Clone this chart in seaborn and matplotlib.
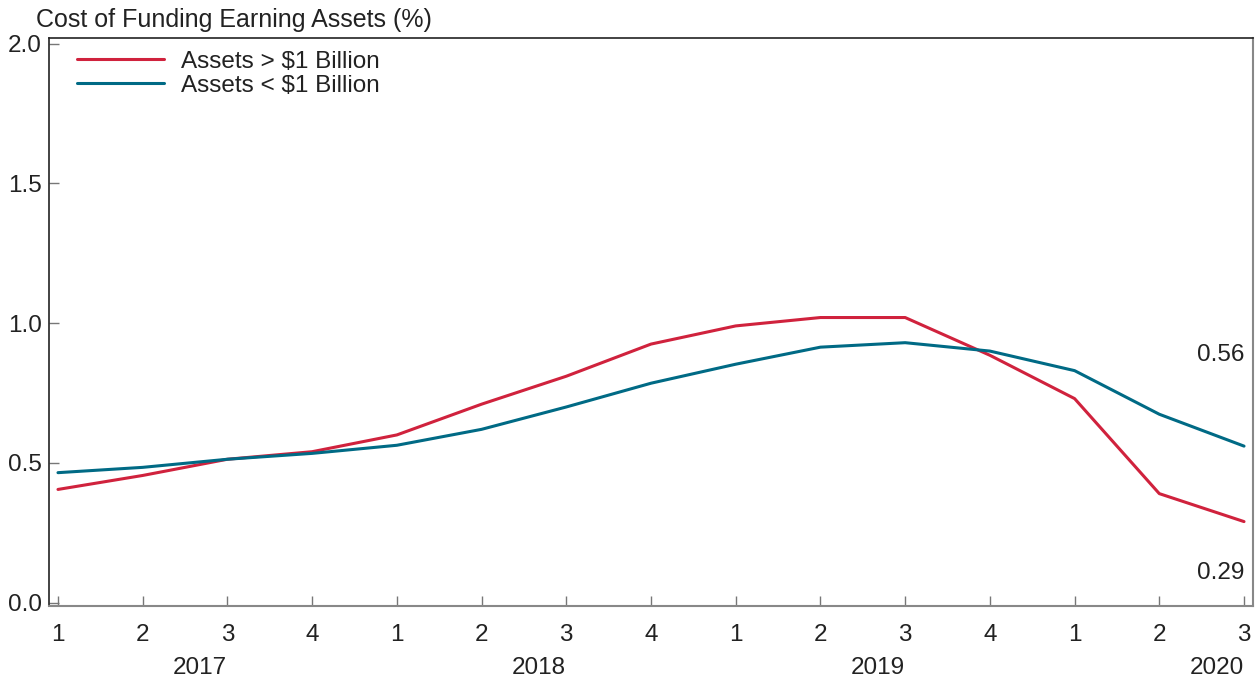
import numpy as np
import pandas as pd
import matplotlib
matplotlib.use("Agg")
import matplotlib.pyplot as plt
import seaborn as sns

quarters = ["1", "2", "3", "4", "1", "2", "3", "4", "1", "2", "3", "4", "1", "2", "3"]
years = ["2017", "2018", "2019", "2020"]
large = [0.405, 0.455, 0.513, 0.54, 0.60, 0.71, 0.81, 0.925, 0.99, 1.02, 1.02, 0.885, 0.73, 0.39, 0.29]
small = [0.465, 0.484, 0.513, 0.534, 0.563, 0.62, 0.70, 0.785, 0.853, 0.914, 0.93, 0.90, 0.83, 0.674, 0.56]
series_names = ["Assets > $1 Billion", "Assets < $1 Billion"]
colors = ["#D0223D", "#006A85"]

sns.set_theme(style="white")
plt.rcParams["font.family"] = ["Liberation Sans", "DejaVu Sans"]
text_color = "#222222"
fs = 17.5

idx = np.arange(len(quarters))
df = pd.DataFrame({
    "x": np.concatenate([idx, idx]),
    "value": large + small,
    "series": [series_names[0]] * len(large) + [series_names[1]] * len(small),
})

fig = plt.figure(figsize=(12.6, 6.79), dpi=100)
ax = fig.add_axes([49 / 1260, 1 - 606 / 679, (1253 - 49) / 1260, (606 - 38) / 679])
sns.lineplot(data=df, x="x", y="value", hue="series", palette=colors,
             hue_order=series_names, linewidth=2.2, ax=ax)

ax.set_xlim(-0.106, 14.106)
ax.set_ylim(-0.012, 2.02)
ax.set_xticks(idx)
ax.set_xticklabels(quarters)
ax.set_yticks([0, 0.5, 1.0, 1.5, 2.0])
ax.set_yticklabels(["0.0", "0.5", "1.0", "1.5", "2.0"])
ax.tick_params(axis="both", direction="in", length=7, width=1, color="#777777",
               labelsize=fs, labelcolor=text_color, left=True, bottom=True)
ax.tick_params(axis="x", pad=13)
ax.tick_params(axis="y", pad=5)
ax.set_xlabel("")
ax.set_ylabel("")

for side in ["left", "top"]:
    ax.spines[side].set_color("#222222")
    ax.spines[side].set_linewidth(1.2)
for side in ["right", "bottom"]:
    ax.spines[side].set_color("#888888")
    ax.spines[side].set_linewidth(1.5)

for k, yr in enumerate(years):
    ax.text(1.68 + 4 * k, -0.233, yr, transform=ax.transData, ha="center", va="center",
            fontsize=fs, color=text_color, clip_on=False)

ax.text(14.0, 0.885, f"{small[-1]:.2f}", ha="right", va="center", fontsize=fs, color=text_color)
ax.text(14.0, 0.107, f"{large[-1]:.2f}", ha="right", va="center", fontsize=fs, color=text_color)

fig.text(36 / 1260, 1 - 20 / 679, "Cost of Funding Earning Assets (%)", ha="left", va="center",
         fontsize=18, color=text_color)

leg = ax.legend(loc="upper left", bbox_to_anchor=(0.023, 0.978), frameon=False,
                fontsize=fs, handlelength=3.6, handletextpad=0.7, labelspacing=0.1,
                borderaxespad=0, borderpad=0)
for t in leg.get_texts():
    t.set_color(text_color)

fig.savefig("out.png", dpi=100)
